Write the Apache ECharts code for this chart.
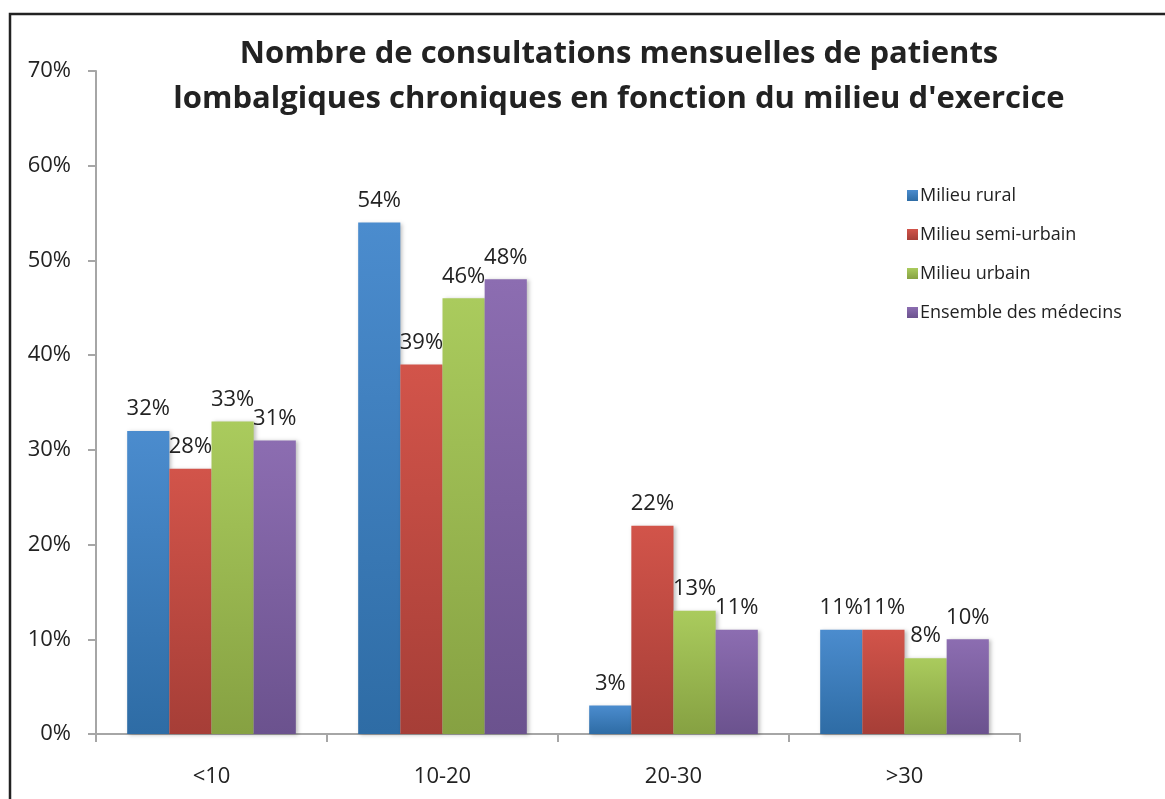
<!DOCTYPE html>
<html>
<head>
<meta charset="utf-8">
<script src="https://cdn.jsdelivr.net/npm/echarts@6/dist/echarts.min.js"></script>
<style>
  html, body { margin: 0; padding: 0; background: #fff; }
  #main { width: 1165px; height: 799px; }
</style>
</head>
<body>
<div id="main"></div>
<script>
// categories and values (percent)
var categories = ['<10', '10-20', '20-30', '>30'];
var rural = [32, 54, 3, 11];
var semiUrbain = [28, 39, 22, 11];
var urbain = [33, 46, 13, 8];
var ensemble = [31, 48, 11, 10];
var seriesNames = ['Milieu rural', 'Milieu semi-urbain', 'Milieu urbain', 'Ensemble des médecins'];

var font = 'Open Sans';

function grad(top, bottom) {
  return new echarts.graphic.LinearGradient(0, 0, 0, 1, [
    { offset: 0, color: top },
    { offset: 1, color: bottom }
  ]);
}

function barSeries(name, data, top, bottom) {
  return {
    name: name,
    type: 'bar',
    data: data,
    barGap: '0%',
    barCategoryGap: '27%',
    itemStyle: {
      color: grad(top, bottom),
      shadowColor: 'rgba(0,0,0,0.25)',
      shadowBlur: 4,
      shadowOffsetX: 2,
      shadowOffsetY: 1
    },
    label: {
      show: true,
      position: 'top',
      distance: 11,
      formatter: '{c}%',
      fontFamily: font,
      fontSize: 22,
      color: '#222'
    }
  };
}

var chart = echarts.init(document.getElementById('main'));
chart.setOption({
  animation: false,
  title: {
    text: 'Nombre de consultations mensuelles de patients\nlombalgiques chroniques en fonction du milieu d\'exercice',
    left: 614,
    textAlign: 'center',
    top: 27,
    textStyle: {
      fontFamily: font,
      fontWeight: 'bold',
      fontSize: 31,
      lineHeight: 45,
      color: '#222'
    }
  },
  legend: {
    orient: 'vertical',
    left: 902,
    top: 178,
    itemWidth: 11,
    itemHeight: 11,
    itemGap: 14,
    icon: 'rect',
    textStyle: { fontFamily: font, fontSize: 18, lineHeight: 25, color: '#222', padding: [0, 0, 0, -3] },
    data: seriesNames
  },
  grid: { left: 96, right: 145, top: 71, bottom: 65 },
  xAxis: {
    type: 'category',
    data: categories,
    axisLine: { lineStyle: { color: '#a6a6a6', width: 2 } },
    axisTick: { show: true, alignWithLabel: false, length: 8, lineStyle: { color: '#a6a6a6', width: 2 } },
    axisLabel: { margin: 32, fontFamily: font, fontSize: 22, color: '#222' }
  },
  yAxis: {
    type: 'value',
    min: 0,
    max: 70,
    interval: 10,
    splitLine: { show: false },
    axisLine: { show: true, lineStyle: { color: '#a6a6a6', width: 2 } },
    axisTick: { show: true, length: 8, lineStyle: { color: '#a6a6a6', width: 2 } },
    axisLabel: { formatter: '{value}%', margin: 25, fontFamily: font, fontSize: 22, color: '#222' }
  },
  graphic: [{
    type: 'rect',
    shape: { x: 10, y: 14, width: 1300, height: 900 },
    style: { fill: 'none', stroke: '#222', lineWidth: 2.5 },
    silent: true
  }],
  series: [
    barSeries(seriesNames[0], rural, '#4b8cce', '#2e6ca5'),
    barSeries(seriesNames[1], semiUrbain, '#d2544a', '#a63e37'),
    barSeries(seriesNames[2], urbain, '#aacb5d', '#86a142'),
    barSeries(seriesNames[3], ensemble, '#8c6db1', '#6b528e')
  ]
});
</script>
</body>
</html>
